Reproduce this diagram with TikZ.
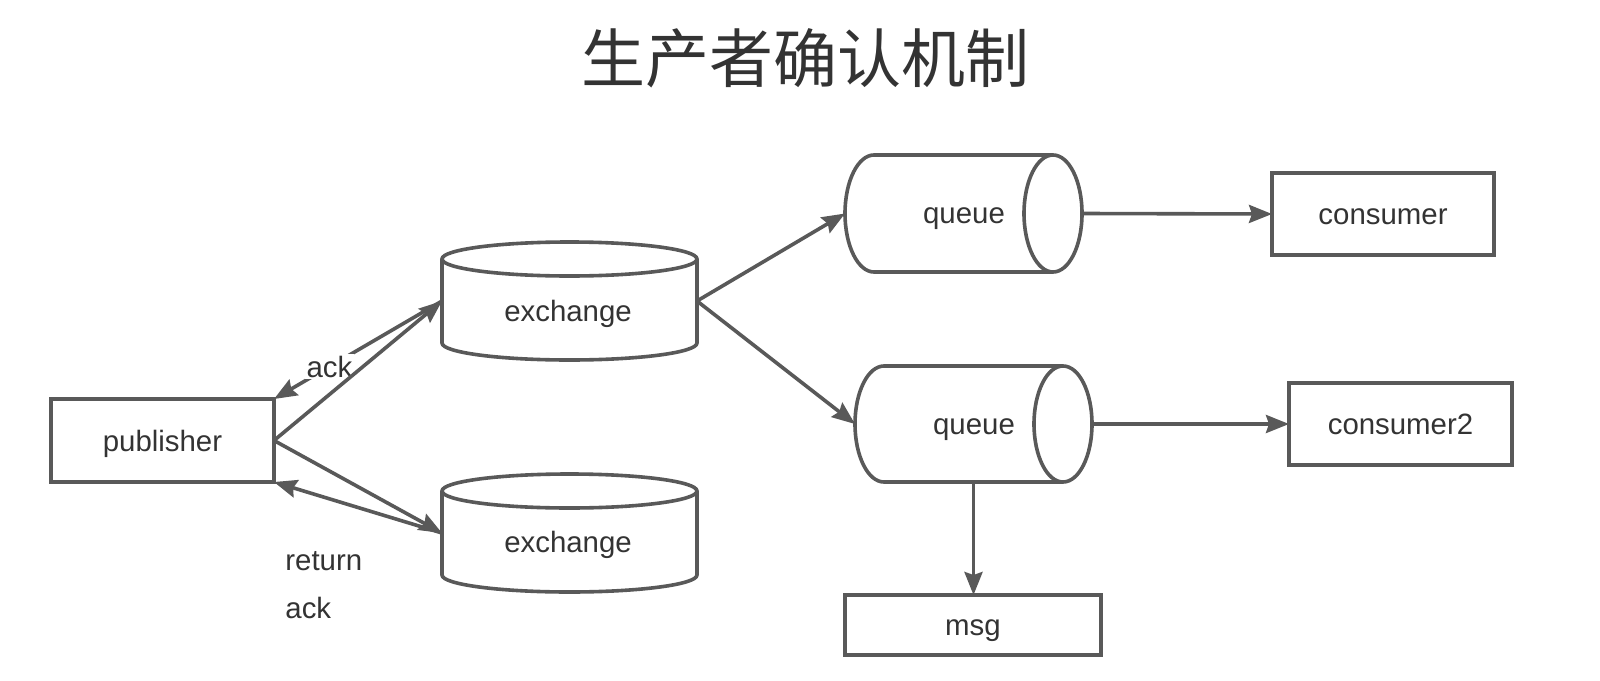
\documentclass[tikz,border=0pt]{standalone}
\usepackage{fontspec}
\setmainfont{Liberation Sans}
\newfontfamily\cjk{Noto Sans CJK SC}
\usetikzlibrary{arrows.meta,calc}
\definecolor{ln}{HTML}{595959}
\definecolor{tx}{HTML}{333333}
\begin{document}
\begin{tikzpicture}[x=0.5pt,y=-0.5pt,
  shp/.style={draw=ln,line width=1.8pt,fill=white},
  box/.style={draw=ln,line width=1.8pt,fill=white,inner sep=0pt,outer sep=0pt,font=\fontsize{14.7}{17}\selectfont,text=tx,text height=1.05em,text depth=0em},
  hold/.style={inner sep=0pt,outer sep=0pt},
  lbl/.style={font=\fontsize{14.7}{17}\selectfont,text=tx,text height=1.05em,text depth=0em,inner sep=0pt},
  conn/.style={draw=ln,line width=1.8pt,-{Stealth[length=11.5pt,width=9pt,inset=1.5pt]}},
]
\fill[white] (0,0) rectangle (1600,680);
\useasboundingbox (0,0) rectangle (1600,680);

\node[font=\cjk\fontsize{32}{36}\selectfont,text=tx] (title) at (805,58) {生产者确认机制};

% nodes
\node[box,minimum width=111.5pt,minimum height=41.5pt] (pub) at (162.5,440.5) {publisher};
\node[hold,minimum width=127.5pt,minimum height=59pt] (ex1) at (569.5,301) {};
\node[hold,minimum width=127.5pt,minimum height=59pt] (ex2) at (569.5,533) {};
\node[hold,minimum width=118.5pt,minimum height=58.5pt] (q1) at (963.5,213.5) {};
\node[hold,minimum width=118.5pt,minimum height=58pt] (q2) at (973.5,424) {};
\node[box,minimum width=111pt,minimum height=41pt] (c1) at (1383,214) {consumer};
\node[box,minimum width=111.5pt,minimum height=41pt] (c2) at (1400.5,424) {consumer2};
\node[box,minimum width=128pt,minimum height=30pt] (msg) at (973,625) {msg};

% exchange cylinders (vertical)
\foreach \n in {ex1,ex2}{
  \path[shp] ([yshift=-8.5pt]\n.north west) -- ([yshift=8.5pt]\n.south west)
     arc[start angle=180,end angle=360,x radius=63.75pt,y radius=8.5pt]
     -- ([yshift=-8.5pt]\n.north east);
  \path[shp] ([yshift=-8.5pt]\n.north) ellipse[x radius=63.75pt,y radius=8.5pt];
}
% queue cylinders (horizontal)
\path[shp] ([xshift=-14.5pt]q1.north east) -- ([xshift=14.5pt]q1.north west)
   arc[start angle=90,end angle=270,x radius=14.5pt,y radius=29.25pt]
   -- ([xshift=-14.5pt]q1.south east);
\path[shp] ([xshift=-14.5pt]q1.east) ellipse[x radius=14.5pt,y radius=29.25pt];
\path[shp] ([xshift=-14.5pt]q2.north east) -- ([xshift=14.5pt]q2.north west)
   arc[start angle=90,end angle=270,x radius=14.5pt,y radius=29pt]
   -- ([xshift=-14.5pt]q2.south east);
\path[shp] ([xshift=-14.5pt]q2.east) ellipse[x radius=14.5pt,y radius=29pt];

% texts in cylinders
\node[lbl] (ex1t) at (568,311) {exchange};
\node[lbl] (ex2t) at (568,542) {exchange};
\node[lbl] (q1t) at (964,213) {queue};
\node[lbl] (q2t) at (974,424) {queue};

% free labels
\node[lbl,anchor=base west] (ret) at (285,570) {return};
\node[lbl,anchor=base west] (ackb) at (285,618) {ack};

% connectors
\draw[conn] (ex1.west) -- node[pos=0.67,lbl,fill=white,inner sep=1pt] (ackt) {ack} (pub.north east);
\draw[conn] (pub.east) -- (ex1.west);
\draw[conn] (pub.east) -- (ex2.west);
\draw[conn] (ex2.west) -- (pub.south east);
\draw[conn] (ex1.east) -- (q1.west);
\draw[conn] (ex1.east) -- (q2.west);
\draw[conn] (q1.east) -- (c1.west);
\draw[conn] (q2.east) -- (c2.west);
\draw[conn] (q2.south) -- (q2.south |- msg.north);
\end{tikzpicture}
\end{document}
